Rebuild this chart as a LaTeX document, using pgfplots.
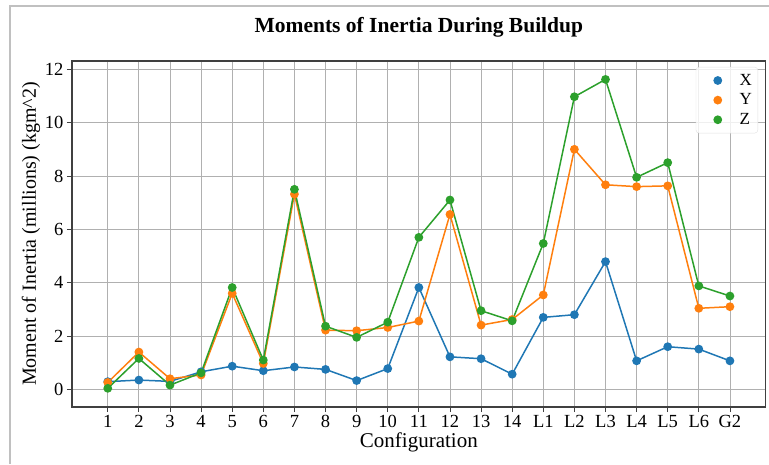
\documentclass[border=0pt]{standalone}
\usepackage{fontspec}
\setmainfont{Liberation Serif}
\usepackage{pgfplots}
\pgfplotsset{compat=1.18}
\definecolor{tabblue}{HTML}{1F77B4}
\definecolor{taborange}{HTML}{FF7F0E}
\definecolor{tabgreen}{HTML}{2CA02C}
\definecolor{framegray}{HTML}{C0C0C0}
\definecolor{gridgray}{HTML}{B0B0B0}
\definecolor{spine}{HTML}{404040}
\begin{document}
\begin{tikzpicture}[x=1pt,y=1pt]
\path[use as bounding box] (0,0) rectangle (769,464);
\draw[framegray, line width=2pt] (10,0) -- (10,458) -- (769,458);
\begin{axis}[
  at={(72pt,57pt)}, anchor=south west,
  scale only axis, width=693.7pt, height=346pt,
  xmin=-1.15, xmax=21.15, ymin=-0.66, ymax=12.31,
  xtick={0,...,20},
  xticklabels={1,2,3,4,5,6,7,8,9,10,11,12,13,14,L1,L2,L3,L4,L5,L6,G2},
  ytick={0,2,4,6,8,10,12},
  /pgf/number format/assume math mode=true,
  ticklabel style={font=\fontsize{18.5}{20}\selectfont},
  tick align=outside, tick pos=left,
  major tick length=5pt,
  every tick/.style={spine, line width=0.8pt},
  axis line style={spine, line width=1.2pt},
  grid=major, major grid style={gridgray, line width=0.8pt},
  title={\textbf{Moments of Inertia During Buildup}},
  title style={font=\fontsize{21.5}{24}\selectfont, at={(0.5,1)}, yshift=14pt, anchor=south},
  xlabel={Configuration},
  ylabel={Moment of Inertia (millions) (kgm\^{}2)},
  xlabel style={font=\fontsize{21}{22}\selectfont, yshift=2pt},
  ylabel style={font=\fontsize{20}{22}\selectfont, yshift=-2pt},
  legend style={at={(0.9889,0.9827)}, anchor=north east, draw=black!12, fill=white, fill opacity=0.8, text opacity=1, rounded corners=3pt, font=\fontsize{17}{20}\selectfont, inner xsep=4pt, inner ysep=5pt, row sep=3pt},
  legend cell align=left,
  every axis plot/.append style={line width=1.5pt, mark=*, mark size=3.6pt, mark options={solid}},
]
\addplot[tabblue, forget plot] coordinates {(0,0.29)(1,0.35)(2,0.30)(3,0.66)(4,0.87)(5,0.70)(6,0.84)(7,0.75)(8,0.33)(9,0.78)(10,3.82)(11,1.22)(12,1.15)(13,0.57)(14,2.70)(15,2.80)(16,4.79)(17,1.07)(18,1.60)(19,1.51)(20,1.07)};
\addplot[taborange, forget plot] coordinates {(0,0.26)(1,1.40)(2,0.40)(3,0.54)(4,3.60)(5,0.97)(6,7.32)(7,2.22)(8,2.20)(9,2.32)(10,2.56)(11,6.56)(12,2.41)(13,2.62)(14,3.54)(15,9.00)(16,7.67)(17,7.60)(18,7.63)(19,3.04)(20,3.10)};
\addplot[tabgreen, forget plot] coordinates {(0,0.04)(1,1.16)(2,0.16)(3,0.62)(4,3.82)(5,1.10)(6,7.50)(7,2.37)(8,1.95)(9,2.52)(10,5.70)(11,7.10)(12,2.95)(13,2.57)(14,5.47)(15,10.97)(16,11.62)(17,7.95)(18,8.50)(19,3.88)(20,3.50)};
\addlegendimage{legend image code/.code={\path (-17pt,0) (19pt,0); \fill[tabblue, fill opacity=1] (0,0) circle (3.6pt);}}
\addlegendentry{X}
\addlegendimage{legend image code/.code={\path (-17pt,0) (19pt,0); \fill[taborange, fill opacity=1] (0,0) circle (3.6pt);}}
\addlegendentry{Y}
\addlegendimage{legend image code/.code={\path (-17pt,0) (19pt,0); \fill[tabgreen, fill opacity=1] (0,0) circle (3.6pt);}}
\addlegendentry{Z}
\end{axis}
\end{tikzpicture}
\end{document}
